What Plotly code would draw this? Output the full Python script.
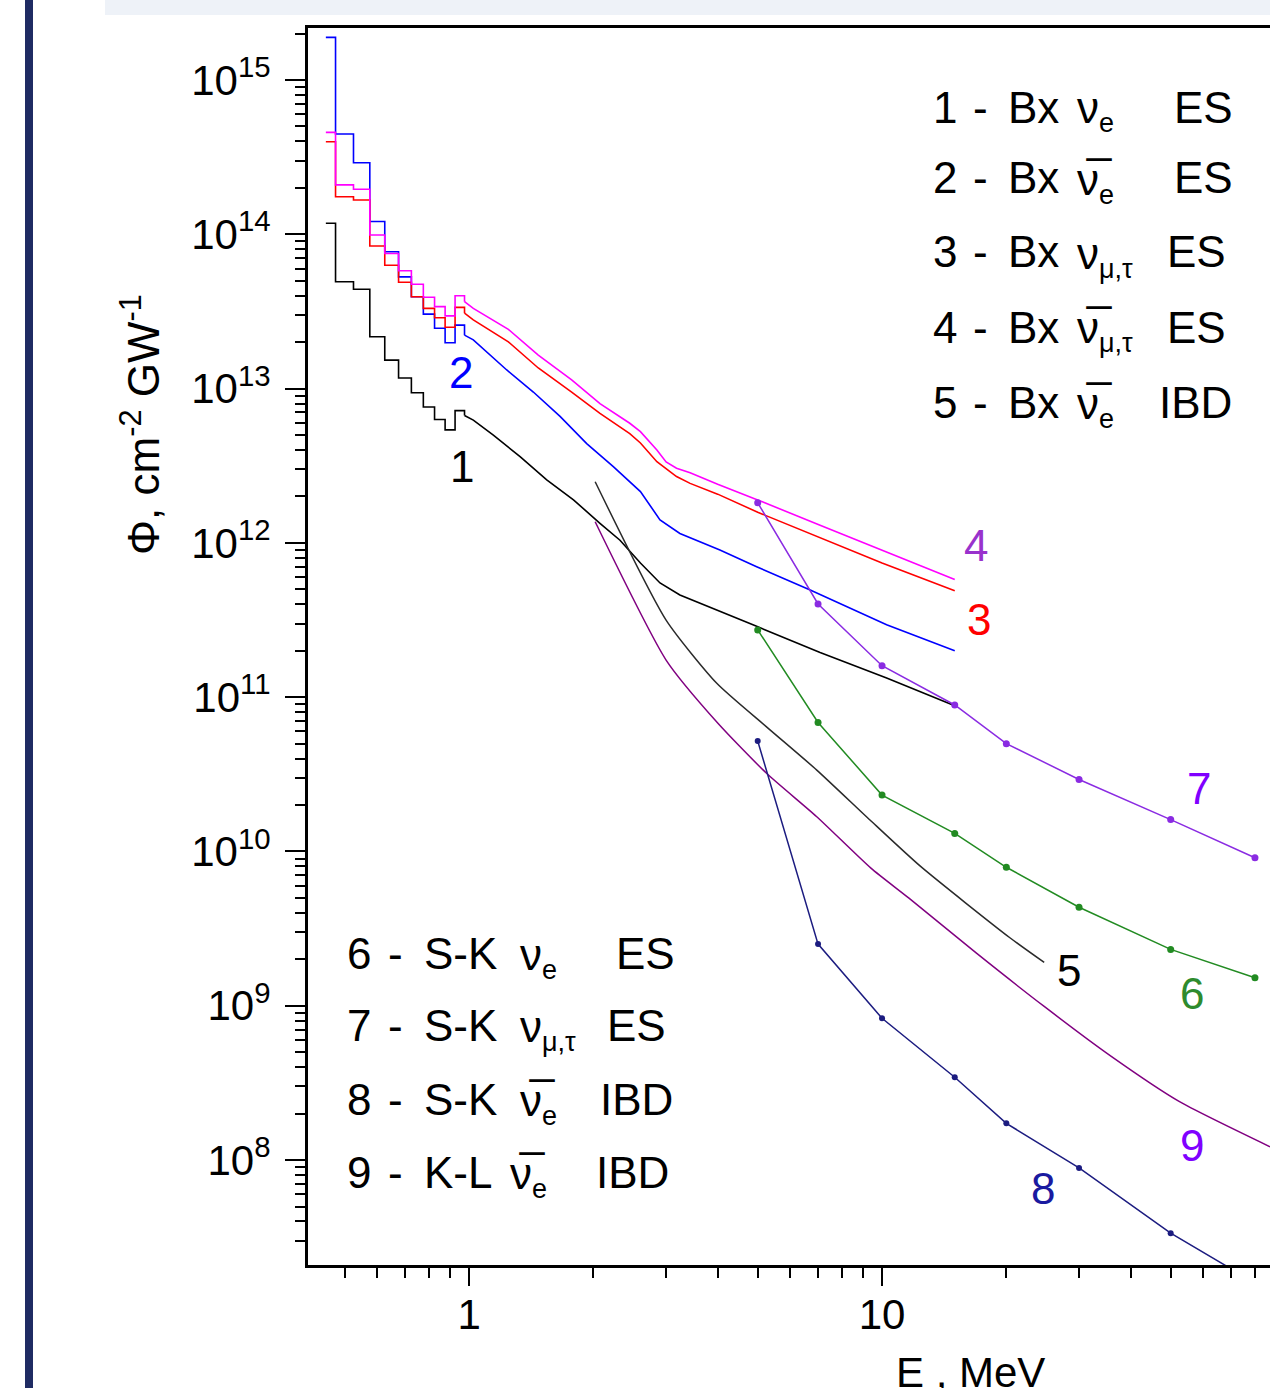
import plotly.graph_objects as go

# ---------------- data ----------------
# low-energy histogram bins (left edges, MeV) shared by curves 1-4
bin_edges = [0.45, 0.475, 0.525, 0.575, 0.625, 0.675, 0.725, 0.775, 0.825, 0.875, 0.925, 0.975]
s1_bins = [1.18e14, 4.93e13, 4.40e13, 2.17e13, 1.53e13, 1.17e13, 9.4e12, 7.6e12, 6.3e12, 5.4e12, 7.2e12]
s2_bins = [1.89e15, 4.47e14, 2.91e14, 1.21e14, 7.7e13, 5.3e13, 3.94e13, 3.04e13, 2.46e13, 1.98e13, 2.58e13]
s3_bins = [3.98e14, 1.75e14, 1.67e14, 8.4e13, 6.3e13, 4.89e13, 3.94e13, 3.31e13, 2.88e13, 2.50e13, 3.36e13]
s4_bins = [4.58e14, 2.09e14, 1.96e14, 9.9e13, 7.5e13, 5.8e13, 4.74e13, 3.91e13, 3.40e13, 2.96e13, 4.0e13]

# higher-energy part of curves 1-4
s1_E = [0.975, 1.024, 1.145, 1.329, 1.542, 1.79, 2.075, 2.32, 2.6, 2.9, 3.24, 4.05, 4.97, 7.08, 10.26, 15]
s1_F = [6.7e12, 6.25e12, 5.0e12, 3.62e12, 2.56e12, 1.9e12, 1.34e12, 1.04e12, 7.4e11, 5.5e11, 4.6e11,
        3.62e11, 2.88e11, 1.95e11, 1.33e11, 8.8e10]
s2_E = [0.975, 1.024, 1.234, 1.431, 1.661, 1.927, 2.235, 2.6, 2.9, 3.24, 4.05, 4.97, 6.7, 8.5, 10.26, 15]
s2_F = [2.22e13, 2.07e13, 1.32e13, 9.5e12, 6.6e12, 4.4e12, 3.12e12, 2.15e12, 1.41e12, 1.15e12, 9.0e11,
        7.0e11, 4.95e11, 3.7e11, 2.95e11, 2.0e11]
s3_E = [0.975, 1.024, 1.245, 1.471, 1.772, 2.075, 2.45, 2.6, 2.85, 3.18, 3.43, 4, 5, 7.08, 10, 15]
s3_F = [3.08e13, 2.79e13, 2.01e13, 1.36e13, 9.5e12, 6.9e12, 5.1e12, 4.44e12, 3.36e12, 2.69e12, 2.43e12,
        2.07e12, 1.58e12, 1.08e12, 7.4e11, 4.9e11]
s4_E = [0.975, 1.024, 1.245, 1.471, 1.772, 2.075, 2.45, 2.6, 2.85, 3.0, 3.18, 3.43, 4, 5, 7.08, 10, 15]
s4_F = [3.66e13, 3.31e13, 2.42e13, 1.65e13, 1.14e13, 8.0e12, 5.96e12, 5.26e12, 4.0e12, 3.35e12, 3.05e12,
        2.85e12, 2.4e12, 1.9e12, 1.3e12, 8.95e11, 5.8e11]

# curve 5 (Bx anti-nu_e IBD)
s5_E = [2.02, 3.0, 3.98, 5.26, 6.95, 9.35, 12.4, 20.4, 24.7]
s5_F = [2.49e12, 3.16e11, 1.23e11, 6.4e10, 3.37e10, 1.6e10, 8.0e9, 2.76e9, 1.91e9]

# S-K points (curves 6, 7, 8)
sk_E = [5, 7, 10, 15, 20, 30, 50, 80]
s6_F = [2.73e11, 6.86e10, 2.32e10, 1.31e10, 7.9e9, 4.35e9, 2.32e9, 1.52e9]
s7_F = [1.82e12, 4.02e11, 1.60e11, 8.9e10, 5.0e10, 2.93e10, 1.61e10, 9.1e9]
s8_F = [5.2e10, 2.51e9, 8.3e8, 3.44e8, 1.73e8, 8.9e7, 3.36e7, 1.6e7]

# curve 9 (K-L anti-nu_e IBD)
s9_E = [2.02, 3.0, 4.0, 5.26, 6.95, 9.4, 11.6, 16.9, 24.7, 35.9, 52.4, 87]
s9_F = [1.37e12, 1.74e11, 6.8e10, 3.2e10, 1.68e10, 7.8e9, 5.0e9, 2.2e9, 9.9e8, 4.7e8, 2.4e8, 1.22e8]

y_tick_vals = [1e8, 1e9, 1e10, 1e11, 1e12, 1e13, 1e14, 1e15]
y_tick_text = ["10<sup>8</sup>", "10<sup>9</sup>", "10<sup>10</sup>", "10<sup>11</sup>",
               "10<sup>12</sup>", "10<sup>13</sup>", "10<sup>14</sup>", "10<sup>15</sup>"]
x_tick_vals = [1, 10, 100]
x_tick_text = ["1", "10", "100"]

# ---------------- figure ----------------
W, H = 1270, 1388
L, R, T, B = 308, 0, 28, 123
FONT = "Liberation Sans, Arial, sans-serif"

fig = go.Figure()

colors = {1: "#000000", 2: "#0000ff", 3: "#ff0000", 4: "#ff00ff"}
for k, bins, E, F in [(1, s1_bins, s1_E, s1_F), (2, s2_bins, s2_E, s2_F),
                      (3, s3_bins, s3_E, s3_F), (4, s4_bins, s4_E, s4_F)]:
    xs = list(bin_edges)
    ys = list(bins) + [F[0]]
    fig.add_trace(go.Scatter(x=xs, y=ys, mode="lines", line=dict(color=colors[k], width=1.6, shape="hv"),
                             hoverinfo="skip"))
    fig.add_trace(go.Scatter(x=E, y=F, mode="lines", line=dict(color=colors[k], width=1.6), hoverinfo="skip"))

fig.add_trace(go.Scatter(x=s9_E, y=s9_F, mode="lines",
                         line=dict(color="#800080", width=1.5, shape="spline", smoothing=0.6)))
fig.add_trace(go.Scatter(x=s5_E, y=s5_F, mode="lines",
                         line=dict(color="#2a2a2a", width=1.5, shape="spline", smoothing=0.6)))
fig.add_trace(go.Scatter(x=sk_E, y=s6_F, mode="lines+markers", line=dict(color="#228b22", width=1.5),
                         marker=dict(size=7, color="#228b22")))
fig.add_trace(go.Scatter(x=sk_E, y=s7_F, mode="lines+markers", line=dict(color="#8a2be2", width=1.5),
                         marker=dict(size=7, color="#8a2be2")))
fig.add_trace(go.Scatter(x=sk_E, y=s8_F, mode="lines+markers", line=dict(color="#1c1c80", width=1.5),
                         marker=dict(size=6, color="#1c1c80")))


def px(x):
    return (x - L) / (W - L - R)


def py(y):
    return (H - B - y) / (H - T - B)


ann = []


def text(x, y, s, size=44, color="black", xanchor="left", yanchor="middle", angle=0):
    ann.append(dict(x=px(x), y=py(y), xref="paper", yref="paper", text=s, showarrow=False,
                    xanchor=xanchor, yanchor=yanchor, textangle=angle,
                    font=dict(size=size, color=color, family=FONT)))


SUB = '<sub><span style="font-size:27px">%s</span></sub>'
NU = "\u03bd"
NUB = "\u03bd\u0305"
MT = "\u03bc,\u03c4"

# top-right legend: (y, number, nu, subscript, last word, x of last word)
top_rows = [(107, "1", NU, "e", "ES", 1172),
            (178, "2", NUB, "e", "ES", 1172),
            (252, "3", NU, MT, "ES", 1165),
            (327, "4", NUB, MT, "ES", 1165),
            (402, "5", NUB, "e", "IBD", 1157)]
for y, n, nu, sub, word, xw in top_rows:
    text(931, y, n)
    text(980, y, "-", xanchor="center")
    text(1006, y, "Bx")
    text(1075, y + 4, nu + SUB % sub)
    text(xw, y, word)

# bottom-left legend
bot_rows = [(953, "6", "S-K", NU, "e", "ES", 614),
            (1025, "7", "S-K", NU, MT, "ES", 605),
            (1099, "8", "S-K", NUB, "e", "IBD", 598),
            (1172, "9", "K-L", NUB, "e", "IBD", 594)]
for y, n, who, nu, sub, word, xw in bot_rows:
    text(345, y, n)
    text(395, y, "-", xanchor="center")
    text(422, y, who)
    text(518 if who == "S-K" else 508, y + 4, nu + SUB % sub)
    text(xw, y, word)

# curve numbers
text(461, 372, "2", 44, "#0000ff", "center")
text(462, 466, "1", 44, "#000000", "center")
text(976, 546, "4", 44, "#9932cc", "center")
text(979, 619, "3", 44, "#ff0000", "center")
text(1199, 788, "7", 44, "#8000ff", "center")
text(1069, 970, "5", 44, "#000000", "center")
text(1192, 993, "6", 44, "#2e8b2e", "center")
text(1192, 1145, "9", 44, "#8000ff", "center")
text(1043, 1188, "8", 44, "#1a1aa0", "center")

# axis titles
text(970, 1372, "E , MeV", 42, "black", "center")
text(140, 425, "\u03a6, cm<sup>-2</sup> GW<sup>-1</sup>", 44, "black", "center", "middle", -90)

shapes = [
    dict(type="rect", xref="paper", yref="paper", x0=px(25), x1=px(33), y0=py(H), y1=py(0),
         fillcolor="#1f2b63", line=dict(width=0), layer="below"),
    dict(type="rect", xref="paper", yref="paper", x0=px(105), x1=px(W), y0=py(15), y1=py(0),
         fillcolor="#eef2f8", line=dict(width=0), layer="below"),
]

axis_common = dict(type="log", showline=True, linewidth=3, linecolor="black", showgrid=False,
                   zeroline=False, ticks="outside", tickwidth=2, tickcolor="black",
                   tickfont=dict(size=42, family=FONT, color="black"))

fig.update_layout(
    width=W, height=H, margin=dict(l=L, r=R, t=T, b=B, pad=0),
    paper_bgcolor="white", plot_bgcolor="white", showlegend=False,
    font=dict(family=FONT, color="black"),
    xaxis=dict(**axis_common, range=[-0.390, 1.9395], mirror=True, ticklen=18,
               tickmode="array", tickvals=x_tick_vals, ticktext=x_tick_text, ticklabelstandoff=-7,
               minor=dict(ticks="outside", ticklen=10, tickwidth=2, tickcolor="black", dtick="D1",
                          showgrid=False)),
    yaxis=dict(**axis_common, range=[7.32, 15.337], mirror=False, ticklen=20,
               tickmode="array", tickvals=y_tick_vals, ticktext=y_tick_text, ticklabelstandoff=6,
               minor=dict(ticks="outside", ticklen=10, tickwidth=2, tickcolor="black", dtick="D1",
                          showgrid=False)),
    annotations=ann,
    shapes=shapes,
)

fig.write_html("out.html", config={"displayModeBar": False},
               post_script="document.body.style.margin='0px';")
